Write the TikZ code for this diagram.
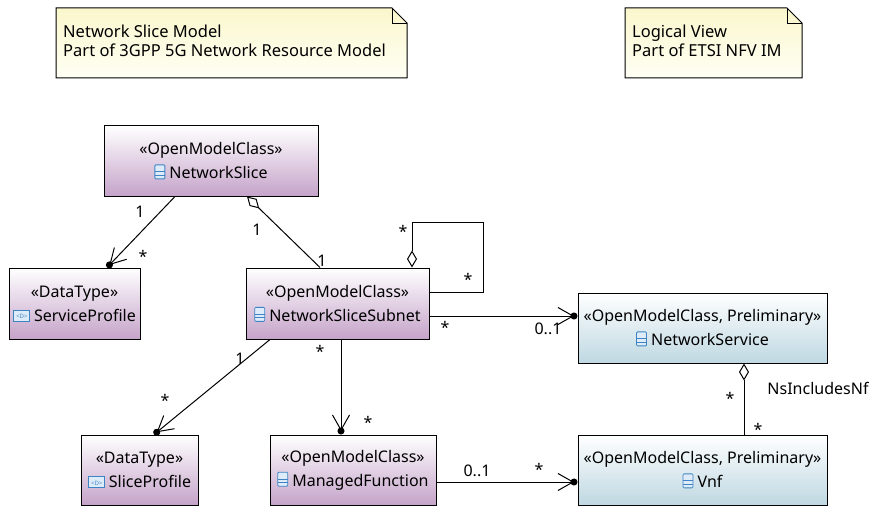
\documentclass[tikz,border=0pt]{standalone}
\usepackage{fontspec}
\setmainfont{Noto Sans}
\usetikzlibrary{arrows.meta,positioning}

\definecolor{clsbot}{RGB}{197,163,201}
\definecolor{prelbot}{RGB}{191,216,226}
\definecolor{notetop}{RGB}{250,247,204}
\definecolor{notebot}{RGB}{255,255,245}
\definecolor{iconblue}{RGB}{62,132,196}
\definecolor{iconfill}{RGB}{222,236,250}

% small class and datatype icons
\newcommand\clsicon{\tikz[baseline=0pt]{\draw[iconblue,fill=iconfill,line width=0.8pt,rounded corners=1pt] (0pt,0pt) rectangle (10pt,14pt);
  \draw[iconblue,line width=0.8pt] (0pt,3.5pt) -- (10pt,3.5pt) (0pt,7pt) -- (10pt,7pt);}}
\newcommand\dticon{\tikz[baseline=0pt]{\draw[iconblue,fill=iconfill,line width=0.8pt] (0pt,0pt) rectangle (16pt,11pt);}%
  \hspace{-16pt}\makebox[16pt]{\raisebox{2.5pt}{\color{iconblue}\fontsize{6}{6}\selectfont\bfseries <D>}}}

\tikzset{
  umlbox/.style={draw, line width=1pt, align=center, inner sep=0pt, font=\fontsize{16}{24}\selectfont},
  cls/.style={umlbox, top color=white, bottom color=clsbot},
  prel/.style={umlbox, top color=white, bottom color=prelbot},
  assoc/.style={line width=1pt},
  owntip/.style={-{Straight Barb[length=15pt,width=17pt,sep=-3.5pt]Circle[length=7pt]}},
  own/.style={assoc, owntip},
  agg/.style={assoc, {Diamond[open,length=17pt,width=10pt]}-},
  mult/.style={font=\fontsize{16}{16}\selectfont, inner sep=0pt},
  notetxt/.style={font=\fontsize{16.5}{19}\selectfont, align=left, inner sep=0pt},
}

\begin{document}
\begin{tikzpicture}[x=1pt,y=-1pt]
\useasboundingbox (0,0) rectangle (873,508);

% notes
\shade[top color=notetop, bottom color=notebot] (56,8) -- (392,8) -- (407,23) -- (407,78) -- (56,78) -- cycle;
\draw[line width=1pt] (56,8) -- (392,8) -- (407,23) -- (407,78) -- (56,78) -- cycle;
\draw[line width=0.8pt] (392,8) -- (392,23) -- (407,23);
\node[notetxt, anchor=north west] (note1) at (63,25) {Network Slice Model\\Part of 3GPP 5G Network Resource Model};

\shade[top color=notetop, bottom color=notebot] (625,8) -- (787,8) -- (802,23) -- (802,78) -- (625,78) -- cycle;
\draw[line width=1pt] (625,8) -- (787,8) -- (802,23) -- (802,78) -- (625,78) -- cycle;
\draw[line width=0.8pt] (787,8) -- (787,23) -- (802,23);
\node[notetxt, anchor=north west] (note2) at (632,25) {Logical View\\Part of ETSI NFV IM};

% classes
\node[cls, minimum width=214pt, minimum height=70pt] (nslice) at (211,161) {«OpenModelClass»\\\clsicon\ NetworkSlice};
\node[cls, minimum width=131pt, minimum height=71pt] (svcprof) at (74.5,303.5) {«DataType»\\\dticon\ ServiceProfile};
\node[cls, minimum width=183pt, minimum height=71pt] (nss) at (337.5,303.5) {«OpenModelClass»\\\clsicon\ NetworkSliceSubnet};
\node[prel, minimum width=249pt, minimum height=70pt] (netsvc) at (702.5,328) {«OpenModelClass, Preliminary»\\\clsicon\ NetworkService};
\node[cls, minimum width=117pt, minimum height=70pt] (sliceprof) at (139.5,470) {«DataType»\\\dticon\ SliceProfile};
\node[cls, minimum width=166pt, minimum height=70pt] (mf) at (353,470) {«OpenModelClass»\\\clsicon\ ManagedFunction};
\node[prel, minimum width=249pt, minimum height=70pt] (vnf) at (702.5,470) {«OpenModelClass, Preliminary»\\\clsicon\ Vnf};

% associations
\draw[own] ([xshift=-36pt]nslice.south) -- ([xshift=32.5pt]svcprof.north);
\draw[agg] ([xshift=36pt]nslice.south) -- ([xshift=-17.5pt]nss.north);
\coordinate (loop) at (483,222);
\draw[agg] ([xshift=74.5pt]nss.north) |- (loop) |- ([yshift=11.5pt]nss.east);
\draw[own] ([yshift=-12.5pt]nss.east) -- ([yshift=12pt]netsvc.west);
\draw[own] ([xshift=-67.5pt]nss.south) -- ([xshift=14.5pt]sliceprof.north);
\draw[agg,owntip] ([xshift=3.5pt]nss.south) -- ([xshift=-12pt]mf.north);
\draw[own] ([yshift=-12pt]mf.east) -- ([yshift=-12pt]vnf.west);
\draw[agg] ([xshift=41.5pt]netsvc.south) -- ([xshift=41.5pt]vnf.north);

% multiplicities
\node[mult] (m1) at (140,212) {1};
\node[mult] (m2) at (143,256) {*};
\node[mult] (m3) at (257,230) {1};
\node[mult] (m4) at (322,261) {1};
\node[mult] (m5) at (403,231) {*};
\node[mult] (m6) at (468,279) {*};
\node[mult] (m7) at (445,327) {*};
\node[mult] (m8) at (548,329) {0..1};
\node[mult] (m9) at (240,359) {1};
\node[mult] (m10) at (165,400) {*};
\node[mult] (m11) at (320,351) {*};
\node[mult] (m12) at (368,422) {*};
\node[mult] (m13) at (477,471) {0..1};
\node[mult] (m14) at (539,469) {*};
\node[mult] (m15) at (730,398) {*};
\node[mult] (m16) at (758,429) {*};
\node[mult] (nsnf) at (818,388) {NsIncludesNf};
\end{tikzpicture}
\end{document}
